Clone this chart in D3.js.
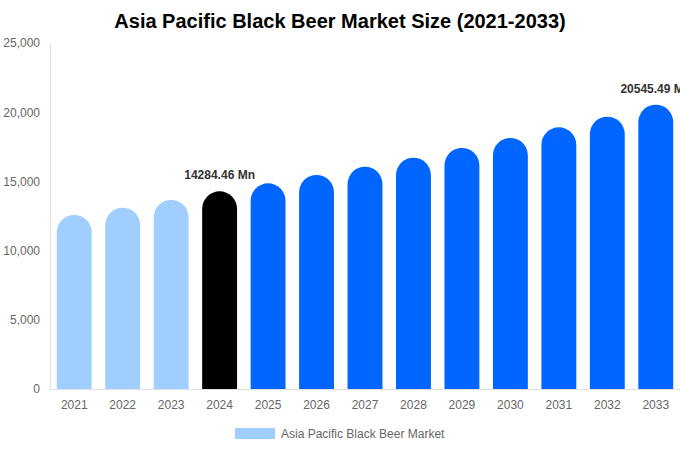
<!DOCTYPE html>
<html>
<head>
<meta charset="utf-8">
<script src="https://cdn.jsdelivr.net/npm/d3@7"></script>
<style>
  body { margin: 0; background: #fff; }
  svg { font-family: "Liberation Sans", Arial, sans-serif; }
</style>
</head>
<body>
<div id="chart"></div>
<script>
// data
var years = ["2021", "2022", "2023", "2024", "2025", "2026", "2027", "2028", "2029", "2030", "2031", "2032", "2033"];
var values = [12572, 13101, 13656, 14284.46, 14862, 15462, 16062, 16713, 17413, 18136, 18909, 19675, 20545.49];
var yTicks = [0, 5000, 10000, 15000, 20000, 25000];
var labelled = ["2024", "2033"];
var seriesName = "Asia Pacific Black Beer Market";

var W = 680, H = 450;
var margin = {top: 43, right: 0, bottom: 61, left: 50},
    width = W - margin.left - margin.right,
    height = H - margin.top - margin.bottom;

var svg = d3.select("#chart")
  .append("svg")
    .attr("width", W)
    .attr("height", H);

// title
svg.append("text")
  .attr("x", W / 2)
  .attr("y", 28)
  .attr("text-anchor", "middle")
  .attr("font-size", 20)
  .attr("font-weight", "bold")
  .attr("fill", "#000")
  .text("Asia Pacific Black Beer Market Size (2021-2033)");

var g = svg.append("g")
  .attr("transform", "translate(" + margin.left + "," + margin.top + ")");

var x = d3.scaleBand()
  .domain(years)
  .range([0, width])
  .paddingInner(0.28)
  .paddingOuter(0.14);

var y = d3.scaleLinear()
  .domain([0, 25000])
  .range([height, 0]);

// y axis
var yAxis = g.append("g")
  .call(d3.axisLeft(y).tickValues(yTicks).tickSize(0).tickPadding(10).tickFormat(d3.format(",")));
yAxis.select(".domain").attr("stroke", "#e0e0e0");
yAxis.selectAll("text").attr("fill", "#666").attr("font-size", 12);

// x axis
var xAxis = g.append("g")
  .attr("transform", "translate(0," + height + ")")
  .call(d3.axisBottom(x).tickSize(0).tickPadding(11));
xAxis.select(".domain").attr("stroke", "#e0e0e0");
xAxis.selectAll("text").attr("fill", "#666").attr("font-size", 12);

function colour(yr) {
  if (+yr < 2024) return "#a0cfff";
  if (+yr === 2024) return "#000000";
  return "#0066ff";
}

// bars with rounded tops
function barPath(d, i) {
  var x0 = x(d), w = x.bandwidth(), r = w / 2;
  var top = y(values[i]), bottom = y(0);
  return "M" + x0 + "," + bottom +
    "L" + x0 + "," + (top + r) +
    "A" + r + "," + r + " 0 0 1 " + (x0 + w) + "," + (top + r) +
    "L" + (x0 + w) + "," + bottom + "Z";
}

g.selectAll(".bar")
  .data(years)
  .enter()
  .append("path")
    .attr("class", "bar")
    .attr("d", barPath)
    .attr("fill", colour);

// value labels
g.selectAll(".lbl")
  .data(years.filter(function(d) { return labelled.indexOf(d) >= 0; }))
  .enter()
  .append("text")
    .attr("class", "lbl")
    .attr("x", function(d) { return x(d) + x.bandwidth() / 2; })
    .attr("y", function(d) { return y(values[years.indexOf(d)]) - 12; })
    .attr("text-anchor", "middle")
    .attr("font-size", 12)
    .attr("font-weight", "bold")
    .attr("fill", "#333")
    .text(function(d) { return values[years.indexOf(d)].toFixed(2) + " Mn"; });

// legend
var leg = svg.append("g").attr("transform", "translate(235,428)");
leg.append("rect")
  .attr("width", 40)
  .attr("height", 11)
  .attr("fill", "#a0cfff");
leg.append("text")
  .attr("x", 46)
  .attr("y", 10)
  .attr("font-size", 12)
  .attr("fill", "#666")
  .text(seriesName);
</script>
</body>
</html>
